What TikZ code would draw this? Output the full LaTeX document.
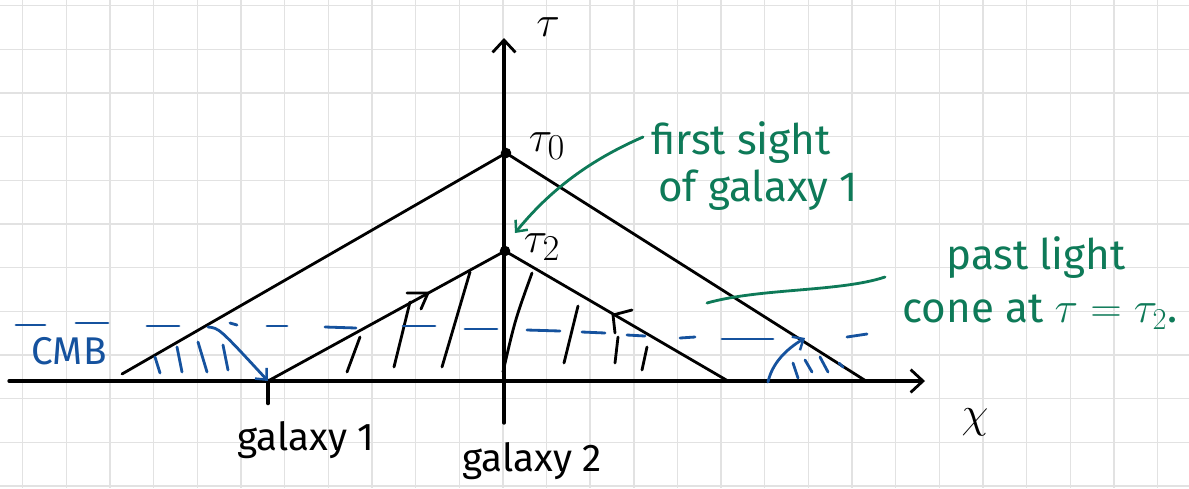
\documentclass[tikz,border=0pt]{standalone}
\usepackage{fontspec}
\setmainfont{Fira Sans}
\usetikzlibrary{arrows.meta}
\definecolor{inkblue}{HTML}{15529E}
\definecolor{inkgreen}{HTML}{0E7A58}
\definecolor{gridgray}{HTML}{E2E2E2}
\tikzset{
  gridline/.style={draw=gridgray, line width=0.8pt},
  ink/.style={draw=black, line width=1.6pt, line cap=round, line join=round},
  axis/.style={draw=black, line width=1.9pt, line cap=round, -{Straight Barb[length=7pt,width=13pt,line width=1.6pt]}},
  hatch/.style={draw=black, line width=1.6pt, line cap=round},
  bhatch/.style={draw=inkblue, line width=1.6pt, line cap=round},
  bdash/.style={draw=inkblue, line width=1.6pt, line cap=round},
  barrow/.style={draw=inkblue, line width=1.6pt, line cap=round, -{Straight Barb[length=5pt,width=9pt,line width=1.4pt]}},
  garrow/.style={draw=inkgreen, line width=1.6pt, line cap=round, -{Straight Barb[length=5pt,width=9pt,line width=1.4pt]}},
  gline/.style={draw=inkgreen, line width=1.6pt, line cap=round},
  lbl/.style={inner sep=0pt, text=black, font=\fontsize{22}{26}\selectfont},
  mlbl/.style={inner sep=0pt, text=black, font=\fontsize{30}{34}\selectfont},
  glbl/.style={inner sep=0pt, text=inkgreen, font=\fontsize{24}{28}\selectfont},
  blbl/.style={inner sep=0pt, text=inkblue, font=\fontsize{22}{26}\selectfont},
  dot/.style={circle, fill=black, inner sep=0pt, minimum size=6pt},
}
\begin{document}
\begin{tikzpicture}[x=0.02cm, y=-0.02cm]
\useasboundingbox[fill=white] (0,0) rectangle (1189,488);
% grid
\foreach \i in {0,...,26} \draw[gridline] ({22.7+43.65*\i},0) -- ({22.7+43.65*\i},488);
\foreach \j in {0,...,11} \draw[gridline] (0,{5.7+43.65*\j}) -- (1189,{5.7+43.65*\j});

% key points
\coordinate (xs) at (9,381);
\coordinate (xe) at (925,381);
\coordinate (ts) at (504,423);
\coordinate (te) at (504,38);
\node[dot] (t0) at (506,153) {};
\node[dot] (t2) at (505,251) {};
\coordinate (g1) at (268,381);
\coordinate (g1b) at (268,403);
\coordinate (aL) at (122,374);
\coordinate (aR) at (866,381);
\coordinate (bR) at (728,381);

% axes
\draw[axis] (xs) -- (xe);
\draw[axis] (ts) -- (te);
\draw[ink, line width=2.6pt] (g1) -- (g1b);

% light cones
\draw[ink] (aL) -- (t0.center) -- (aR);
\draw[ink] (g1) -- (t2.center) -- (bR);

% black chevrons on cone
\draw[ink] (407,293) -- (428,293) -- (421,309);
\draw[ink] (632,310) -- (613,315) -- (615,333);

% black hatches
\draw[hatch] (360,337) -- (347,372);
\draw[hatch] (410,302) -- (394,367);
\draw[hatch] (470,272) -- (442,367);
\draw[hatch] (532,273) .. controls (515,320) .. (503,372);
\draw[hatch] (578,306) -- (564,363);
\draw[hatch] (618,337) -- (615,363);
\draw[hatch] (647,347) -- (642,370);

% CMB dashed line
\foreach \a/\b/\c/\d in {16/325/45/325, 76/323/108/323, 147/326/179/326, 230/323/237/325,
  267/326/287/326, 325/327/356/328, 403/326/435/326, 465/329/497/329, 527/330/560/331,
  582/332/605/333, 627/335/645/336, 680/338/695/337, 722/339/773/339, 847/337/867/334}
  \draw[bdash] (\a,\b) -- (\c,\d);

% blue hatches
\draw[bhatch] (155,357) -- (160,373);
\draw[bhatch] (177,347) -- (182,372);
\draw[bhatch] (198,342) -- (207,372);
\draw[bhatch] (223,345) -- (228,370);
\draw[bhatch] (793,363) -- (798,378);
\draw[bhatch] (805,360) -- (812,372);
\draw[bhatch] (820,357) -- (828,372);
\draw[bhatch] (839,363) -- (843,367);

% blue arrows
\coordinate (cmbL) at (208,327);
\coordinate (cmbR) at (805,338);
\coordinate (arcS) at (768,382);
\draw[barrow] (cmbL) .. controls (219,328) .. (g1);
\draw[barrow] (arcS) .. controls (772,364) and (785,350) .. (cmbR);

% labels
\node[mlbl] (tauL) at (548,27) {$\tau$};
\node[mlbl] (t0L) at (547,146) {$\tau_0$};
\node[mlbl] (t2L) at (542,247) {$\tau_2$};
\node[mlbl, font=\fontsize{34}{38}\selectfont] (chiL) at (975,422) {$\chi$};
\node[lbl] (g1L) at (306,440) {galaxy 1};
\node[lbl] (g2L) at (532,461) {galaxy 2};
\node[blbl] (cmbL2) at (69,351) {CMB};

% green annotations
\node[glbl] (fs) at (741,143) {first sight};
\node[glbl] (og) at (758,190) {of galaxy 1};
\node[glbl] (pl) at (1036,258) {past light};
\node[glbl] (ca) at (1040,312) {cone at $\tau=\tau_2$.};
\coordinate (fsTip) at (515,233);
\coordinate (plS) at (707,303);
\coordinate (plE) at (885,277);
\draw[garrow] (643,137) .. controls (590,160) and (550,190) .. (fsTip);
\draw[gline] (plS) .. controls (760,288) and (840,292) .. (plE);
\end{tikzpicture}
\end{document}
